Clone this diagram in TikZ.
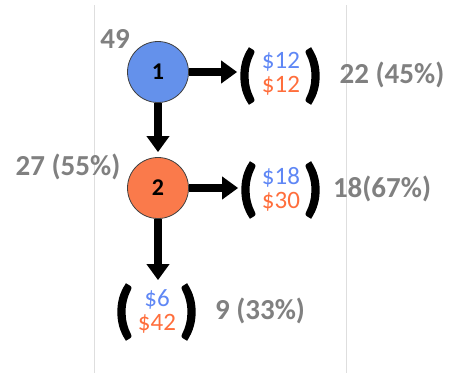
\documentclass[tikz,border=0pt]{standalone}
\usepackage{fontspec}
\setmainfont{Carlito}
\newfontfamily\parenfont[FakeBold=2.5]{Carlito Bold}
\usetikzlibrary{arrows.meta}
\definecolor{nblue}{RGB}{100,145,235}
\definecolor{norange}{RGB}{250,122,75}
\definecolor{tblue}{RGB}{95,135,245}
\definecolor{torange}{RGB}{255,110,60}
\definecolor{lgray}{RGB}{128,128,128}
\definecolor{rule}{RGB}{222,222,222}
\begin{document}
\begin{tikzpicture}[x=1pt,y=-1pt,
 circ/.style={circle,draw=black!75,line width=0.8pt,minimum size=61pt,inner sep=0pt,font=\fontsize{24}{24}\selectfont\bfseries},
 amt/.style={align=center,inner sep=0pt,font=\fontsize{25}{24}\selectfont},
 paren/.style={inner sep=0pt,font=\fontsize{62}{62}\parenfont},
 cnt/.style={text=lgray,inner sep=0pt,font=\fontsize{29}{29}\selectfont\bfseries},
 arr/.style={line width=8pt,-{Triangle[width=22pt,length=16pt]}},
 ]
\useasboundingbox (0,0) rectangle (450,373);
\draw[rule,line width=0.8pt] (94,5) -- (94,373);
\draw[rule,line width=0.8pt] (346,5) -- (346,373);

\node[circ,fill=nblue] (c1) at (158,72) {1};
\node[circ,fill=norange] (c2) at (158,188) {2};
\node[cnt] (n49) at (115,39) {49};
\node[cnt] (n27) at (68,167) {27 (55\%)};

\node[amt] (v1) at (281,74) {\textcolor{tblue}{\$12}\\\textcolor{torange}{\$12}};
\node[paren] (l1) at (247,76) {(};
\node[paren] (r1) at (313,76) {)};
\node[cnt] (p1) at (392,75) {22 (45\%)};

\node[amt] (v2) at (281,189) {\textcolor{tblue}{\$18}\\\textcolor{torange}{\$30}};
\node[paren] (l2) at (248,190) {(};
\node[paren] (r2) at (313,190) {)};
\node[cnt] (p2) at (382,189) {18(67\%)};

\node[amt] (v3) at (157,311) {\textcolor{tblue}{\$6}\\\textcolor{torange}{\$42}};
\node[paren] (l3) at (124,312) {(};
\node[paren] (r3) at (189,312) {)};
\node[cnt] (p3) at (260,311) {9 (33\%)};

\draw[arr] (c1.east) -- (l1.west |- c1.east);
\draw[arr,shorten >=5pt] (c1.south) -- (c2.north);
\draw[arr] (c2.east) -- (l2.west |- c2.east);
\draw[arr,shorten >=4pt] (c2.south) -- (l3.north -| c2.south);
\end{tikzpicture}
\end{document}
